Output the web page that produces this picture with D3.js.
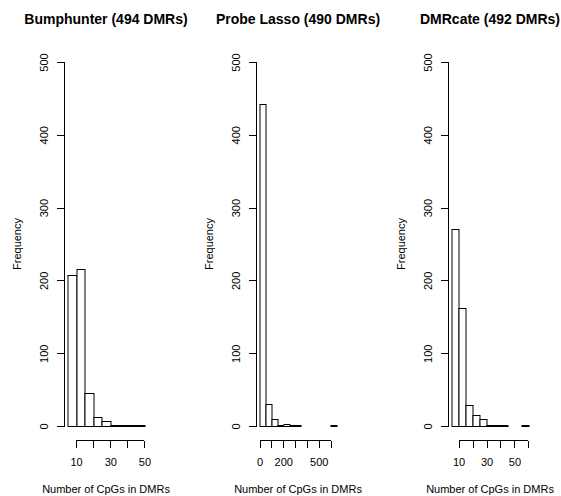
<!DOCTYPE html>
<html>
<head>
<meta charset="utf-8">
<script src="https://cdn.jsdelivr.net/npm/d3@7"></script>
<style>
  body { margin: 0; background: #fff; }
  svg { display: block; font-family: "Liberation Sans", Arial, sans-serif; }
  .axis path, .axis line { stroke: #000; shape-rendering: crispEdges; }
  .axis text { fill: #000; font-size: 11px; }
</style>
</head>
<body>
<div id="chart"></div>
<script>

// panel titles
var titles = ["Bumphunter (494 DMRs)", "Probe Lasso (490 DMRs)", "DMRcate (492 DMRs)"];

// histogram break points (bin edges) for each panel
var breaksBump  = [5, 10, 15, 20, 25, 30, 35, 40, 45, 50];
var breaksLasso = [0, 50, 100, 150, 200, 250, 300, 350, 400, 450, 500, 550, 600, 650];
var breaksCate  = [5, 10, 15, 20, 25, 30, 35, 40, 45, 50, 55, 60];

// counts per bin
var countsBump  = [208, 215, 45, 12, 7, 2, 2, 1, 2];
var countsLasso = [442, 30, 10, 1, 3, 1, 1, 0, 0, 0, 0, 0, 2];
var countsCate  = [271, 162, 29, 15, 10, 1, 1, 1, 0, 0, 2];

// x ticks and which of them carry a label
var xTicksBump  = [10, 20, 30, 40, 50];
var xLabelsBump = [10, 30, 50];
var xTicksLasso  = [0, 100, 200, 300, 400, 500, 600];
var xLabelsLasso = [0, 200, 500];
var xTicksCate  = [10, 20, 30, 40, 50, 60];
var xLabelsCate = [10, 30, 50];

var yTicks = [0, 100, 200, 300, 400, 500];
var yMax = 500;

var panels = [
  {title: titles[0], breaks: breaksBump,  counts: countsBump,  ticks: xTicksBump,  labels: xLabelsBump},
  {title: titles[1], breaks: breaksLasso, counts: countsLasso, ticks: xTicksLasso, labels: xLabelsLasso},
  {title: titles[2], breaks: breaksCate,  counts: countsCate,  ticks: xTicksCate,  labels: xLabelsCate}
];

var W = 561, H = 496;
var left0 = 64.5, step = 192, plotW = 83
  , plotTop = 47.4, plotBottom = 440.6;

var svg = d3.select("#chart").append("svg")
  .attr("width", W)
  .attr("height", H);

// R style: 4% extension of the range
var y = d3.scaleLinear()
  .domain([-0.04 * yMax, yMax * 1.04])
  .range([plotBottom, plotTop]);

panels.forEach(function(p, i) {
  var b0 = p.breaks[0], b1 = p.breaks[p.breaks.length - 1], ext = 0.04 * (b1 - b0);
  var x = d3.scaleLinear()
    .domain([b0 - ext, b1 + ext])
    .range([0, plotW]);

  var g = svg.append("g")
    .attr("transform", "translate(" + (left0 + step * i) + ",0)");

  // title
  g.append("text")
    .attr("x", plotW / 2)
    .attr("y", 24)
    .attr("text-anchor", "middle")
    .style("font-weight", "bold")
    .style("font-size", "14px")
    .text(p.title);

  // bars
  var bins = p.counts.map(function(c, k) { return {x0: p.breaks[k], x1: p.breaks[k + 1], n: c}; });
  g.selectAll("rect.bar")
    .data(bins)
    .enter().append("rect")
      .attr("class", "bar")
      .attr("x", function(d) { return Math.round(x(d.x0)) + 0.5; })
      .attr("width", function(d) { return Math.round(x(d.x1)) - Math.round(x(d.x0)); })
      .attr("y", function(d) { return Math.round(y(d.n)) + 0.5; })
      .attr("height", function(d) { return Math.round(y(0)) - Math.round(y(d.n)); })
      .attr("fill", "#fff")
      .attr("stroke", "#000")
      .attr("stroke-width", 1);

  // y axis
  var ya = g.append("g")
    .attr("class", "axis")
    .call(d3.axisLeft(y).tickValues(yTicks).tickSize(8).tickFormat(d3.format("d")));
  ya.select(".domain").remove();
  ya.append("line")
    .attr("x1", 0).attr("x2", 0)
    .attr("y1", y(0)).attr("y2", y(yMax));
  ya.selectAll(".tick text")
    .attr("x", null).attr("dy", null)
    .attr("text-anchor", "middle")
    .attr("transform", "translate(-16.5,0) rotate(-90)");

  g.append("text")
    .attr("text-anchor", "middle")
    .attr("transform", "translate(-44," + ((plotTop + plotBottom) / 2) + ") rotate(-90)")
    .style("font-size", "11px")
    .text("Frequency");

  // x axis
  var xa = g.append("g")
    .attr("class", "axis")
    .attr("transform", "translate(0," + plotBottom + ")")
    .call(d3.axisBottom(x).tickValues(p.ticks).tickSize(7).tickSizeOuter(0)
      .tickFormat(function(d) { return p.labels.indexOf(d) >= 0 ? d : ""; }));
  xa.select(".domain").remove();
  xa.append("line")
    .attr("x1", x(p.ticks[0])).attr("x2", x(p.ticks[p.ticks.length - 1]))
    .attr("y1", 0).attr("y2", 0);
  xa.selectAll(".tick text")
    .attr("dy", null)
    .attr("y", 25);

  g.append("text")
    .attr("x", plotW / 2)
    .attr("y", 492.5)
    .attr("text-anchor", "middle")
    .style("font-size", "11px")
    .text("Number of CpGs in DMRs");
});

</script>
</body>
</html>
